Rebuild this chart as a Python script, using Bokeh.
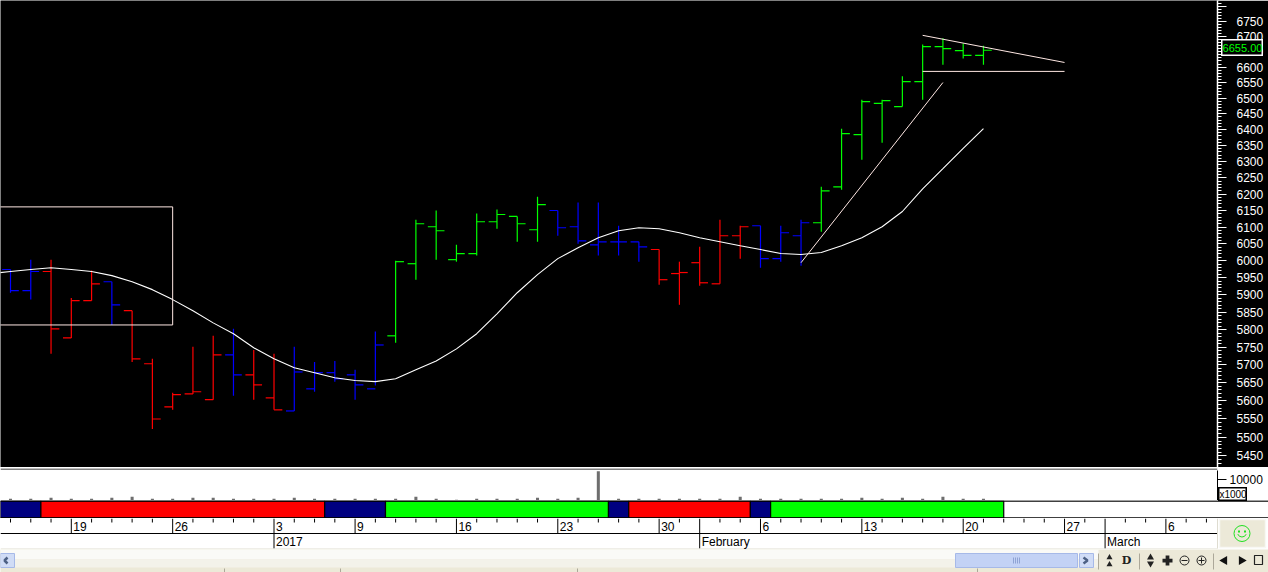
from bokeh.plotting import figure
from bokeh.layouts import column
from bokeh.models import (Range1d, FixedTicker, PrintfTickFormatter, LinearAxis, LogAxis, Span)
from bokeh.core.properties import value
from bokeh.embed import file_html
from bokeh.resources import INLINE

# ---------- data ----------
highs = [5974,6003,6003,5891,5971,5938,5854,5717,5622,5751,5782,5802,5742,5731,5751,5708,5711,5686,5794,6000,
         6122,6150,6047,6141,6153,6132,6192,6150,6174,6174,6104,6056,6033,5997,6041,6122,6104,6104,6104,6122,
         6222,6403,6495,6495,6570,6674,6694,6677,6670]
lows = [5906,5886,5731,5776,5883,5813,5708,5523,5575,5619,5603,5614,5603,5575,5572,5625,5653,5603,5642,5762,
        5944,6003,5997,6015,6095,6056,6056,6074,6050,6015,6015,5997,5929,5871,5926,5932,6006,5979,5997,5985,
        6086,6213,6306,6359,6473,6495,6608,6628,6608]
opens = [5974,5912,5968,5776,5883,5938,5854,5703,5583,5619,5603,5728,5672,5608,5572,5633,5678,5672,5633,5782,
         5991,6101,6003,6021,6116,6132,6092,6150,6101,6047,6056,6056,6033,5962,5994,5932,6074,6104,6006,6074,
         6113,6222,6384,6483,6473,6553,6667,6654,6638]
closes = [5912,5968,5802,5883,5932,5871,5717,5550,5617,5625,5728,5672,5644,5575,5680,5678,5661,5644,5756,5997,
          6110,6089,6021,6116,6138,6110,6168,6098,6059,6056,6056,6041,5944,5965,5935,6074,6101,6006,6083,6113,
          6210,6387,6489,6492,6553,6667,6660,6638,6655]
bar_colors = ["b","b","r","r","r","b","r","r","r","r","r","b","r","r","b","b","b","b","b","g",
              "g","g","g","g","g","g","g","b","b","b","b","b","r","r","r","r","r","b","b","b",
              "g","g","g","g","g","g","g","g","g"]
ma_index = list(range(-1, 49))
ma_values = [5962,5968,5974,5979,5974,5968,5956,5938,5915,5886,5854,5819,5788,5748,5717,5692,5678,5664,5656,5653,
             5661,5686,5711,5745,5788,5845,5906,5959,6006,6038,6068,6089,6098,6095,6083,6068,6056,6044,6033,6021,
             6018,6024,6044,6068,6101,6147,6216,6278,6341,6403]
volumes = [800,800,1270,800,800,1270,1750,800,800,1270,1270,800,800,800,1270,800,800,800,800,800,1750,
           800,320,800,800,800,1270,800,1270,13970,800,800,800,800,800,800,1750,800,800,800,800,
           800,1270,800,1270,800,1750,800,800,1750][:49]
band_edges = [-0.5,1.5,15.5,18.5,29.5,30.5,36.5,37.5,49.0]
band_colors = ["#000080","#ff0000","#000080","#00ff00","#000080","#ff0000","#000080","#00ff00"]
price_ticks = list(range(5450, 6801, 50))
price_minor = list(range(5420, 6820, 10))
volume_ticks = [10000]
day_ticks = list(range(0, 60))
day_label_idx = [3, 8, 13, 17, 22, 27, 32, 37, 42, 47, 52, 57]
day_labels = ["19","26","3","9","16","23","30","6","13","20","27","6"]
month_label_idx = [13, 34, 54]
month_labels = ["2017","February","March"]
last_close = "6655.00"
volume_unit = "x1000"
trend_up = ([39, 46], [5994, 6550])
flag_top = ([45, 52], [6704, 6615])
flag_bottom = ([45, 52], [6586, 6586])
rect_box = (-2, 8, 5813, 6161)

# ---------- layout helpers ----------
W = 1268
FRAME_R = 51
X0, XSTEP = 10, 20.27
def px(v):
    return (v - X0) / XSTEP
x_left, x_right, x_full = px(0), px(W - FRAME_R), px(W)
FONT = value("Liberation Sans")
COL = {"r": "#ff0000", "b": "#0000ff", "g": "#00ff00"}
PINK = "#ffe8e4"
BEIGE = "#ece9d8"

def base(h, xr, yr, bg, right=0, width=W, **kw):
    p = figure(width=width, height=h, x_range=xr, y_range=yr, output_backend="svg", toolbar_location=None,
               x_axis_location=None, y_axis_location=None, min_border=0, min_border_left=0, min_border_top=0,
               min_border_bottom=0, min_border_right=right, outline_line_color=None,
               background_fill_color=bg, border_fill_color=bg, **kw)
    p.grid.visible = False
    p.frame_align = False
    return p

def tag(text, left, top, w, h, bg, fg, edge, size):
    t = base(h, Range1d(0, 1), Range1d(0, 1), bg, width=w)
    t.outline_line_color = edge
    t.outline_line_width = 2
    t.text([0.5], [0.5], text=[text], text_font=FONT, text_font_size=size, text_color=fg,
           text_align="center", text_baseline="middle")
    t.styles = {"position": "absolute", "left": f"{left}px", "top": f"{top}px"}
    return t

# ---------- price panel ----------
price = base(467, Range1d(x_left, x_right), Range1d(5419, 6820), "#000000", right=FRAME_R, y_axis_type="log")
axis = LogAxis(ticker=FixedTicker(ticks=price_ticks, minor_ticks=price_minor),
               formatter=PrintfTickFormatter(format="%d"),
               major_label_overrides={6800: ""},
               axis_line_color="white", axis_line_width=1.5, major_tick_line_color="white", minor_tick_line_color="white",
               major_tick_in=0, major_tick_out=9, minor_tick_in=0, minor_tick_out=4,
               major_label_text_color="white", major_label_text_font="Liberation Sans",
               major_label_text_font_size="12px", major_label_standoff=10)
price.add_layout(axis, "right")

xs = list(range(len(highs)))
tw = 0.41
cols = [COL[c] for c in bar_colors]
price.segment(xs, lows, xs, highs, line_color=cols, line_width=1.2)
price.segment([x - tw for x in xs], opens, xs, opens, line_color=cols, line_width=1.2)
price.segment(xs, closes, [x + tw for x in xs], closes, line_color=cols, line_width=1.2)
price.line(ma_index, ma_values, line_color="white", line_width=1.1)
price.line(*trend_up, line_color=PINK, line_width=1)
price.line(*flag_top, line_color=PINK, line_width=1)
price.line(*flag_bottom, line_color=PINK, line_width=1)
l, r, b, t = rect_box
price.quad(left=[l], right=[r], bottom=[b], top=[t], fill_color=None, line_color=PINK, line_width=1)

# ---------- volume panel ----------
vol = base(33, Range1d(x_left, x_right), Range1d(0, 15714), "#ffffff", right=FRAME_R)
vaxis = LinearAxis(ticker=FixedTicker(ticks=volume_ticks), formatter=PrintfTickFormatter(format="%d"),
                   axis_line_color="black", major_tick_line_color="black", major_tick_in=0, major_tick_out=9,
                   minor_tick_line_color=None, major_label_text_color="black", major_label_text_font="Liberation Sans",
                   major_label_text_font_size="12px", major_label_standoff=3, bounds=(0, 14500))
vol.add_layout(vaxis, "right")
vol.vbar(xs, top=volumes[:len(xs)], bottom=0, width=0.15, fill_color="#6e6e6e", line_color=None)
vol.add_layout(Span(location=14900, dimension="width", line_color="#808080", line_width=1.5))

# ---------- trend band ----------
band = base(18, Range1d(x_left, x_full), Range1d(18, 0), "#ffffff")
band.quad(left=band_edges[:-1], right=band_edges[1:], top=0.5, bottom=17.5,
          fill_color=band_colors, line_color="black", line_width=1.2)
band.add_layout(Span(location=0.5, dimension="width", line_color="black", line_width=1.3))
band.add_layout(Span(location=17.5, dimension="width", line_color="black", line_width=1.3))

# ---------- date axis ----------
dates = base(31, Range1d(x_left, x_full), Range1d(31, 0), "#ffffff")
major = set(day_label_idx) | set(month_label_idx)
minor = [d for d in day_ticks if d not in major]
maj = sorted(major)
dates.segment(minor, 0, minor, 4, line_color="black", line_width=1)
dates.segment(maj, 0, maj, 15, line_color="black", line_width=1)
dates.segment(month_label_idx, 15, month_label_idx, 30, line_color="black", line_width=1)
dates.segment([x_left], 15, [x_right], 15, line_color="black", line_width=1.2)
dates.segment([x_left], 30.5, [x_right], 30.5, line_color="#dedcd0", line_width=1)
dates.segment([x_right], 0, [x_right], 30, line_color="#dedcd0", line_width=1)
dates.text(day_label_idx, 8, text=day_labels, text_font=FONT, text_font_size="12px", text_color="black",
           text_baseline="middle", x_offset=2)
dates.text(month_label_idx, 23, text=month_labels, text_font=FONT, text_font_size="12px", text_color="black",
           text_baseline="middle", x_offset=2)
dates.quad(left=[px(1219)], right=[px(1265)], top=[1], bottom=[29], fill_color=BEIGE,
           line_color="#f8f8f4", line_width=1.5)
dates.scatter([px(1241.5)], [15], marker="circle", size=16, fill_color=None, line_color="#20e020", line_width=1)
dates.scatter([px(1238.5), px(1244.5)], [13, 13], marker="square", size=2, fill_color="#20e020", line_color=None)
dates.arc([px(1241.5)], [14], radius=4.5, radius_units="screen", start_angle=3.5, end_angle=5.9,
          line_color="#20e020", line_width=1)

# ---------- scrollbar / toolbar strip ----------
bar = base(23, Range1d(0, W), Range1d(23, 0), BEIGE)
bar.quad(left=[0], right=[1098], top=[0], bottom=[10], fill_color="#fafaf7", line_color=None)
bar.quad(left=[0], right=[1098], top=[10], bottom=[18], fill_color="#f3f2ea", line_color=None)
bar.quad(left=[0, 955, 1079], right=[14, 1077, 1093], top=[4, 4, 4], bottom=[18, 18, 18],
         fill_color=["#d0dcf6", "#c3d2f5", "#d0dcf6"], line_color="#a6b9e8", line_width=1)
bar.multi_line([[7, 4, 7], [1083, 1087, 1083]], [[8, 11, 14], [8, 11, 14]], line_color="#4d6185", line_width=2.5)
bar.segment([1013, 1015, 1017, 1019], 8, [1013, 1015, 1017, 1019], 14, line_color="#8fa3d4", line_width=1)
bar.segment([224, 340, 577, 977, 1098, 1139, 1213], [19, 19, 19, 19, 4, 4, 4],
            [224, 340, 577, 977, 1098, 1139, 1213], [23, 23, 23, 23, 20, 20, 20], line_color="#aca899", line_width=1)
bar.text([1126], [11], text=["D"], text_font=value("DejaVu Serif"), text_font_size="11px", text_align="center",
         text_baseline="middle", text_color="#222222", text_font_style="bold")
bar.scatter([1109, 1109], [8, 15], marker="triangle", size=6, fill_color="#222222", line_color=None)
bar.scatter([1150, 1150], [8, 14], marker="triangle", size=7, fill_color="#222222", line_color=None, angle=[0, 3.1416])
bar.scatter([1167], [11], marker="plus", size=10, fill_color="#222222", line_color=None)
bar.scatter([1184, 1201], [11, 11], marker="circle", size=9, fill_color=None, line_color="#222222")
bar.scatter([1184], [11], marker="dash", size=6, line_color="#222222")
bar.scatter([1201], [11], marker="cross", size=6, line_color="#222222")
bar.scatter([1224, 1241], [11, 11], marker="triangle", size=9, fill_color="#111111", line_color=None,
            angle=[1.5708, -1.5708])
bar.quad(left=[1254], right=[1262], top=[6], bottom=[15], fill_color=None, line_color="#222222", line_width=1.2)

# ---------- value tags laid over the axes ----------
close_tag = tag(last_close, 1221, 39, 42, 17, "#000000", "#00ff00", "white", "11px")
unit_tag = tag(volume_unit, 1218, 487, 29, 14, "#ffffff", "black", "black", "10px")

page = column(price, vol, band, dates, bar, close_tag, unit_tag, spacing=0,
              styles={"position": "absolute", "left": "0px", "top": "0px"})
open("out.html", "w").write(file_html(page, INLINE))
